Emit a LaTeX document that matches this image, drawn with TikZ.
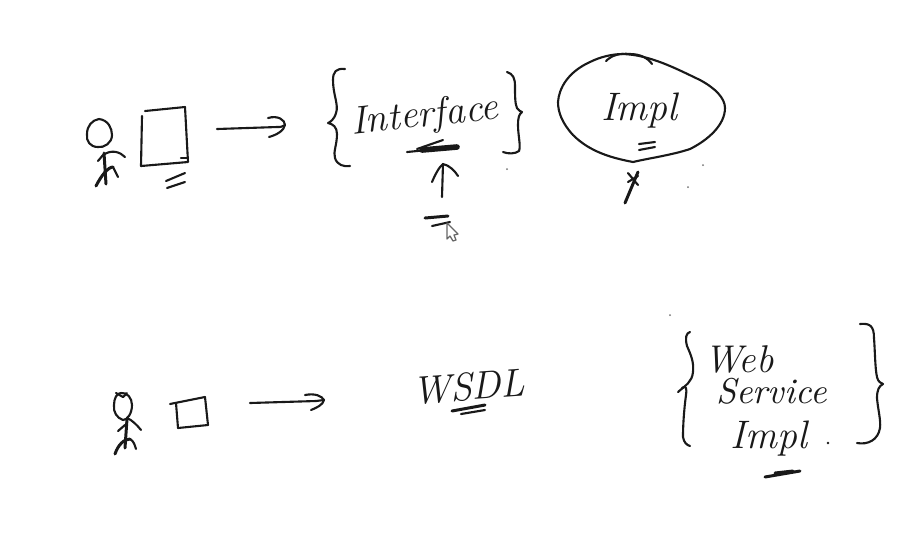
\documentclass[tikz,border=0pt]{standalone}
\begin{document}
\begin{tikzpicture}[x=0.01cm,y=-0.01cm,
  ink/.style={draw=black!90,line width=0.6pt,line cap=round,line join=round},
  thick ink/.style={draw=black!90,line width=0.85pt,line cap=round,line join=round},
  hand/.style={anchor=base west,inner sep=0pt,outer sep=0pt,font=\fontsize{11.5}{13}\itshape,text=black!90},
  speck/.style={fill=black!55,draw=none}]
\useasboundingbox[fill=white] (0,0) rectangle (902,532);

% --- top row: person
\draw[ink] (99,119) .. controls (108,120) and (112,128) .. (112,135) .. controls (112,143) and (104,148) .. (98,147) .. controls (90,147) and (86,141) .. (87,134) .. controls (87,126) and (92,120) .. (99,119) -- cycle;
\draw[thick ink] (104,153) -- (106,184);
\draw[ink] (103,155) .. controls (112,149) and (120,152) .. (125,157);
\draw[ink] (103,155) -- (98,161);
\draw[thick ink] (96,186) .. controls (101,176) and (108,167) .. (113,167);
\draw[ink] (113,167) -- (118,177);
% top row: screen box
\draw[ink] (142,116) -- (141,166) -- (188,162) -- (185,107) -- (145,111);
\draw[ink] (181,158) -- (188,158);
\draw[ink] (166,181) -- (185,173);
\draw[ink] (167,188) -- (185,182);
% top row: arrow
\coordinate (arrowAfrom) at (217,129);
\coordinate (arrowAto) at (285,125);
\draw[ink] (arrowAfrom) -- (277,127) .. controls (281,127) .. (arrowAto);
\draw[ink] (268,118) .. controls (278,115) and (285,120) .. (arrowAto) .. controls (284,131) and (276,135) .. (269,137);
% top row: braces and Interface
\draw[ink] (345,69) .. controls (336,68) and (333,72) .. (333,80) .. controls (333,95) and (339,105) .. (336,113) .. controls (334,120) and (330,122) .. (328,123) .. controls (333,124) and (337,127) .. (337,134) .. controls (337,145) and (333,152) .. (335,158) .. controls (337,165) and (344,167) .. (350,166);
\draw[ink] (507,72) .. controls (513,74) and (515,78) .. (515,86) .. controls (515,95) and (515,104) .. (517,108) .. controls (518,111) and (521,111) .. (522,112) .. controls (519,114) and (518,118) .. (518,125) .. controls (518,135) and (521,146) .. (519,151) .. controls (515,154) and (508,154) .. (503,152);
\node[hand,rotate=6,font=\fontsize{11.2}{13}\itshape] (interface) at (352,134) {Interface};
\draw[ink] (407,152) -- (458,147);
\draw[thick ink,line width=1.6pt] (422,150) -- (457,147);
\draw[ink] (417,149) -- (443,140);
% up arrow
\coordinate (arrowBfrom) at (442,197);
\coordinate (arrowBto) at (443,164);
\draw[ink] (arrowBfrom) -- (arrowBto);
\draw[ink] (432,182) .. controls (435,175) and (439,167) .. (arrowBto) .. controls (449,165) and (455,171) .. (458,176);
\draw[thick ink] (425,218) -- (448,216);
\draw[ink] (432,226) -- (450,222);
% mouse cursor
\draw[draw=black!60,fill=white,line width=0.35pt,line join=round] (447,223) -- (447,239) -- (450,236) -- (453,241) -- (456,240) -- (454,235) -- (458,234) -- cycle;

% top row: Impl blob
\draw[ink] (623,54) .. controls (650,55) and (675,68) .. (700,80) .. controls (715,88) and (725,98) .. (725,108) .. controls (725,125) and (708,140) .. (690,149) .. controls (672,155) and (650,158) .. (633,162) .. controls (612,158) and (590,152) .. (573,135) .. controls (562,123) and (558,112) .. (558,102) .. controls (559,88) and (568,72) .. (590,62) .. controls (600,57) and (612,54) .. (623,54);
\draw[ink] (606,61) .. controls (612,55) and (620,53) .. (630,54) .. controls (640,54) and (648,58) .. (652,64);
\node[hand,font=\fontsize{11.3}{14}\itshape] (implA) at (601,120) {Impl};
\draw[ink] (639,144) -- (655,142);
\draw[ink] (639,150) -- (655,147);
\draw[thick ink] (625,203) -- (638,172);
\draw[ink] (628,173) -- (638,185);
\draw[ink] (628,182) -- (638,176);

% --- bottom row: person
\draw[ink] (121,393) .. controls (127,392) and (132,398) .. (132,405) .. controls (132,414) and (127,420) .. (123,420) .. controls (117,418) and (113,412) .. (114,405) .. controls (114,398) and (117,393) .. (121,393) -- cycle;
\draw[ink] (116,393) -- (123,397) -- (127,393);
\draw[thick ink] (127,419) -- (125,448);
\draw[ink] (127,418) .. controls (132,420) and (137,425) .. (141,430);
\draw[ink] (125,425) -- (118,431);
\draw[thick ink] (115,454) .. controls (118,445) and (124,439) .. (130,439);
\draw[ink] (130,439) .. controls (134,441) and (135,446) .. (136,449);
% bottom row: box
\draw[ink] (170,404) -- (205,397) -- (208,425) -- (178,428) -- (176,403);
% bottom row: arrow
\coordinate (arrowCfrom) at (250,403);
\coordinate (arrowCto) at (324,400);
\draw[ink] (arrowCfrom) -- (316,401) -- (arrowCto);
\draw[ink] (305,395) .. controls (315,393) and (322,396) .. (arrowCto) .. controls (323,405) and (316,408) .. (311,410);
% WSDL
\node[hand,rotate=4,font=\fontsize{11.2}{13}\itshape] (wsdl) at (413,404) {WSDL};
\draw[thick ink] (452,411) -- (485,405);
\draw[ink] (461,414) -- (485,410);
% Web Service Impl braces
\draw[ink] (690,332) .. controls (686,333) and (685,338) .. (687,346) .. controls (691,355) and (694,362) .. (693,372) .. controls (692,382) and (686,385) .. (678,392);
\draw[ink] (682,388) .. controls (686,385) and (687,388) .. (686,395) .. controls (684,410) and (683,425) .. (683,437) .. controls (684,443) and (687,445) .. (690,446);
\draw[ink] (860,324) .. controls (870,323) and (874,326) .. (874,338) .. controls (875,350) and (875,368) .. (877,377) .. controls (878,382) and (881,383) .. (883,384) .. controls (879,386) and (877,390) .. (877,398) .. controls (878,410) and (881,420) .. (880,428) .. controls (878,440) and (868,445) .. (857,443);
\node[hand,font=\fontsize{11}{13}\itshape] (web) at (704,372) {Web};
\node[hand,font=\fontsize{10.2}{12}\itshape] (service) at (716,403) {Service};
\node[hand,font=\fontsize{11.3}{13}\itshape] (implB) at (731,448) {Impl};
\draw[thick ink] (765,477) -- (800,471);
\draw[thick ink] (775,473) -- (793,471);

% specks
\foreach \sx/\sy in {703/165,688/187,507/169,670/315}{\fill[speck] (\sx,\sy) circle (1);}
\fill[black!90] (828,443) circle (1.3);
\end{tikzpicture}
\end{document}
